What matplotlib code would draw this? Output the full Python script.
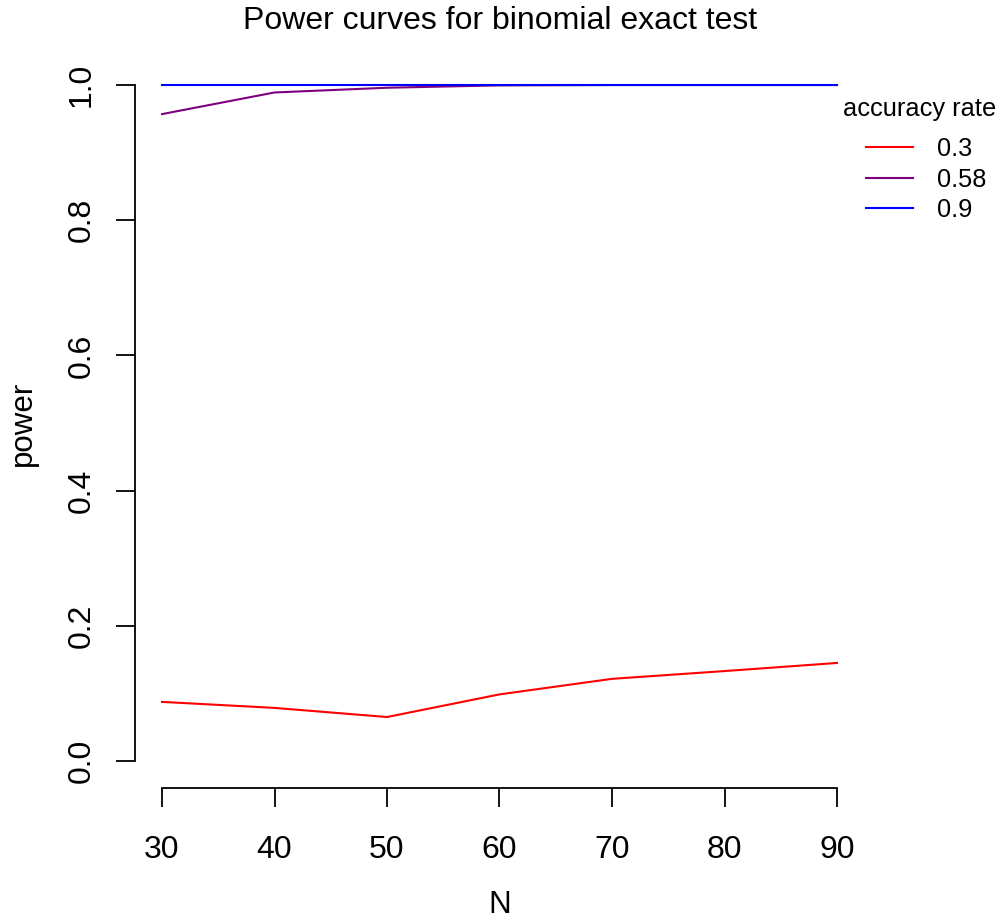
import matplotlib
matplotlib.use("Agg")
import matplotlib.pyplot as plt

N = [30, 40, 50, 60, 70, 80, 90]
power_03 = [0.0874, 0.0785, 0.065, 0.0985, 0.1215, 0.133, 0.145]
power_058 = [0.957, 0.989, 0.996, 0.9995, 1.0, 1.0, 1.0]
power_09 = [1.0, 1.0, 1.0, 1.0, 1.0, 1.0, 1.0]
series_labels = ["0.3", "0.58", "0.9"]
series_colors = ["#FF0000", "#7F007F", "#0000FF"]
x_ticks = [30, 40, 50, 60, 70, 80, 90]
y_ticks = [0.0, 0.2, 0.4, 0.6, 0.8, 1.0]

plt.rcParams['font.family'] = ['Liberation Sans', 'DejaVu Sans']

W, H = 1001, 921
fig = plt.figure(figsize=(W / 100, H / 100), dpi=100)
ax = fig.add_axes([135 / W, 1 - 788 / H, (864 - 135) / W, (788 - 58) / H])

lines = []
for vals, lab, col in zip([power_03, power_058, power_09], series_labels, series_colors):
    ln, = ax.plot(N, vals, color=col, lw=1.5, label=lab)
    lines.append(ln)

ax.set_xlim(30 - 2.4, 90 + 2.4)
ax.set_ylim(-0.04, 1.04)
for s in ['top', 'right']:
    ax.spines[s].set_visible(False)
ax.spines['left'].set_bounds(0, 1)
ax.spines['bottom'].set_bounds(30, 90)
ax.spines['left'].set_linewidth(1.3)
ax.spines['bottom'].set_linewidth(1.3)
ax.set_xticks(x_ticks)
ax.set_yticks(y_ticks)
ax.set_xticklabels([str(v) for v in x_ticks])
ax.set_yticklabels(["%.1f" % v for v in y_ticks], rotation=90, va='center')
ax.tick_params(axis='both', length=13.5, width=1.3, labelsize=23)
ax.tick_params(axis='x', pad=20)
ax.tick_params(axis='y', pad=14)

ax.set_xlabel("N", fontsize=22.5, labelpad=18)
ax.set_ylabel("power", fontsize=22.5, labelpad=21)
fig.text(0.5, 1 - 21 / H, "Power curves for binomial exact test", ha='center', va='center', fontsize=23)

fig.text(920 / W, 1 - 109 / H, "accuracy rate", ha='center', va='center', fontsize=18.3)
leg = fig.legend(handles=lines, labels=series_labels,
                 loc='upper left', bbox_to_anchor=(866 / W, 1 - 137 / H),
                 frameon=False, fontsize=18.3,
                 handlelength=1.85, handletextpad=0.94, labelspacing=0.26,
                 borderpad=0, borderaxespad=0)

fig.savefig("out.png", dpi=100)
